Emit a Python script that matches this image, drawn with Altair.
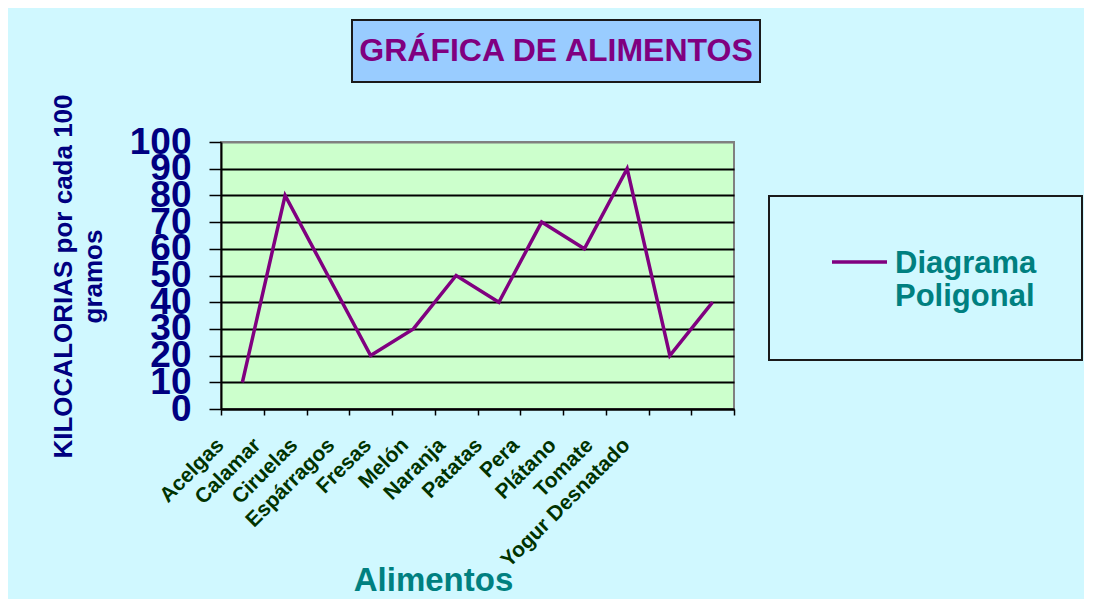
import altair as alt
import pandas as pd

# ---- data -------------------------------------------------------------
alimentos = ["Acelgas", "Calamar", "Ciruelas", "Espárragos", "Fresas", "Melón",
             "Naranja", "Patatas", "Pera", "Plátano", "Tomate", "Yogur Desnatado"]
kcal = [10, 80, 50, 20, 30, 50, 40, 70, 60, 90, 20, 40]
y_ticks = [0, 10, 20, 30, 40, 50, 60, 70, 80, 90, 100]
titulo = "GRÁFICA DE ALIMENTOS"
titulo_x = "Alimentos"
titulo_y = ["KILOCALORIAS por cada 100", "gramos"]
leyenda = ["Diagrama", "Poligonal"]

# ---- style ------------------------------------------------------------
FONT = "Liberation Sans"
BG = "#D0F8FF"
PLOT_BG = "#CCFFCC"
PURPLE = "#800080"
NAVY = "#000080"
TEAL = "#008080"
W, H = 513, 267

df = pd.DataFrame({"Alimento": alimentos, "Kcal": kcal})

x_enc = alt.X(
    "Alimento:N", sort=alimentos, bandPosition=0.5,
    scale=alt.Scale(type="band", paddingInner=0, paddingOuter=0),
    axis=alt.Axis(
        title=titulo_x, tickBand="extent", grid=False,
        labelAngle=-45, labelAlign="right", labelBaseline="top",
        labelFont=FONT, labelFontSize=21, labelFontWeight="bold", labelColor="#003300",
        labelPadding=19, labelOffset=alt.ExprRef(expr="-30 - 64*datum.index"),
        labelOverlap=False, labelLimit=400,
        tickSize=6, tickColor="black", tickWidth=1.5,
        domainColor="black", domainWidth=2,
        titleFont=FONT, titleFontSize=33, titleFontWeight="bold", titleColor=TEAL,
        titleX=212, titleY=181, titleAlign="center", titleBaseline="alphabetic",
    ),
)

y_enc = alt.Y(
    "Kcal:Q",
    scale=alt.Scale(domain=[0, 100], nice=False),
    axis=alt.Axis(
        values=y_ticks, title=titulo_y,
        labelFont=FONT, labelFontSize=37, labelFontWeight="bold", labelColor=NAVY,
        labelPadding=18, labelOverlap=False, labelFlush=False, labelBaseline="middle",
        tickSize=12, tickColor="black", tickWidth=1.5,
        domainColor="black", domainWidth=2,
        grid=True, gridWidth=2,
        gridColor={"condition": {"test": "datum.value === 100", "value": "#808080"}, "value": "black"},
        titleFont=FONT, titleFontSize=26, titleFontWeight="bold", titleColor=NAVY,
        titleAngle=-90, titleX=-158, titleY=134, titleAlign="center",
        titleBaseline="middle", titleLineHeight=30,
    ),
)

linea = alt.Chart(df).mark_line(color=PURPLE, strokeWidth=3.5).encode(x=x_enc, y=y_enc)

one = pd.DataFrame({"t": [titulo]})

caja_titulo = alt.Chart(one).mark_rect(fill="#99CCFF", stroke="#1a1a1a", strokeWidth=2).encode(
    x=alt.value(131), x2=alt.value(539), y=alt.value(-122), y2=alt.value(-60)
)
texto_titulo = alt.Chart(one).mark_text(
    font=FONT, fontSize=32, fontWeight="bold", color=PURPLE, align="center", baseline="middle"
).encode(text="t:N", x=alt.value(335), y=alt.value(-91))

caja_leyenda = alt.Chart(one).mark_rect(fill=BG, stroke="#1a1a1a", strokeWidth=2).encode(
    x=alt.value(548), x2=alt.value(861), y=alt.value(54), y2=alt.value(218)
)
linea_leyenda = alt.Chart(one).mark_rule(color=PURPLE, strokeWidth=3.5).encode(
    x=alt.value(611), x2=alt.value(666), y=alt.value(120)
)
texto_leyenda = alt.Chart(one).mark_text(
    text=leyenda, font=FONT, fontSize=31, fontWeight="bold", color=TEAL,
    align="left", baseline="alphabetic", lineHeight=33
).encode(x=alt.value(674), y=alt.value(131))

chart = alt.layer(
    caja_titulo, caja_leyenda, linea, texto_titulo, linea_leyenda, texto_leyenda
).properties(
    width=W, height=H,
    autosize=alt.AutoSizeParams(type="none"),
    padding={"left": 213, "top": 134, "right": 350, "bottom": 190},
    background=BG,
).configure_view(
    fill=PLOT_BG, stroke="#808080", strokeWidth=2
)

chart.save("out.html", embed_options={"renderer": "svg", "actions": False})
